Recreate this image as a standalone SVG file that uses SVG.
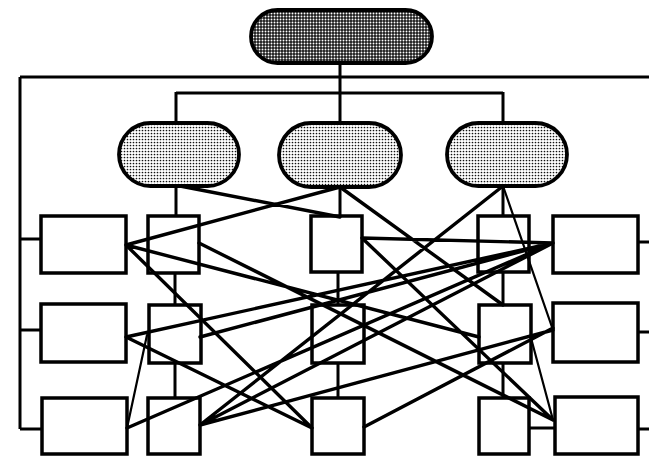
<svg xmlns="http://www.w3.org/2000/svg" width="649" height="456" viewBox="0 0 649 456">
<defs>
<pattern id="dark" width="3" height="3" patternUnits="userSpaceOnUse">
<rect width="3" height="3" fill="#1a1a1a"/>
<circle cx="1.5" cy="1.5" r="0.95" fill="#ffffff"/>
</pattern>
<pattern id="light" width="3" height="3" patternUnits="userSpaceOnUse">
<rect width="3" height="3" fill="#ffffff"/>
<circle cx="1.5" cy="1.5" r="0.85" fill="#111111"/>
</pattern>
</defs>
<style>
.box{fill:none;stroke:#000;stroke-width:3.5}
.pill{stroke:#000;stroke-width:3.8}
.tree{fill:none;stroke:#000;stroke-width:3}
.x{fill:none;stroke:#000;stroke-width:3.4;stroke-linecap:round}
.thin{fill:none;stroke:#000;stroke-width:2.2;stroke-linecap:round}
</style>
<rect width="649" height="456" fill="#fff"/>
<g id="connectors">
<path class="tree" d="M20,77 H649 M20,77 V429 M20,239 H41 M20,330 H41 M20,429 H42 M340,63 V123 M176,93 H503 M176,92 V123 M503,92 V123 M176,186 V216 M340,187 V216 M503,186 V216 M175,273 V305 M175,363 V398 M338,272 V305 M338,363 V398 M503,272 V305 M503,363 V398 M638,242 H649 M638,332 H649 M638,429 H649 M529,428 H555"/>
<path class="x" d="M180,186 L340,217 M340,187 L126,245 M340,187 L503,305 M503,186 L200,425 M126,245 L479,337 M126,245 L312,428 M126,337 L553,243 M126,337 L312,428 M127,428 L553,243 M199,243 L553,420 M200,337 L553,243 M200,425 L553,330 M200,425 L553,243 M362,238 L553,243 M362,238 L553,420 M364,427 L553,328"/>
<path class="thin" d="M503,186 L553,330 M127,428 L147,335 M531,338 L553,420"/>
</g>
<g id="top"><rect class="pill" x="251" y="10" width="181" height="53" rx="26.5" fill="url(#dark)"/></g>
<g id="mid-left"><rect class="pill" x="119" y="123" width="120" height="63" rx="31.5" fill="url(#light)"/></g>
<g id="mid-center"><rect class="pill" x="279" y="123" width="122" height="64" rx="32" fill="url(#light)"/></g>
<g id="mid-right"><rect class="pill" x="447" y="123" width="120" height="63" rx="31.5" fill="url(#light)"/></g>
<g id="l1"><rect class="box" x="41" y="216" width="85" height="57"/></g>
<g id="l2"><rect class="box" x="41" y="304" width="85" height="58"/></g>
<g id="l3"><rect class="box" x="42" y="398" width="85" height="56"/></g>
<g id="a1"><rect class="box" x="148" y="216" width="51" height="57"/></g>
<g id="a2"><rect class="box" x="149" y="305" width="52" height="58"/></g>
<g id="a3"><rect class="box" x="148" y="398" width="52" height="56"/></g>
<g id="b1"><rect class="box" x="311" y="216" width="51" height="56"/></g>
<g id="b2"><rect class="box" x="312" y="305" width="52" height="58"/></g>
<g id="b3"><rect class="box" x="312" y="398" width="52" height="56"/></g>
<g id="c1"><rect class="box" x="478" y="216" width="51" height="56"/></g>
<g id="c2"><rect class="box" x="479" y="305" width="52" height="58"/></g>
<g id="c3"><rect class="box" x="479" y="398" width="50" height="56"/></g>
<g id="r1"><rect class="box" x="553" y="216" width="85" height="57"/></g>
<g id="r2"><rect class="box" x="553" y="303" width="85" height="59"/></g>
<g id="r3"><rect class="box" x="555" y="397" width="83" height="57"/></g>
</svg>
